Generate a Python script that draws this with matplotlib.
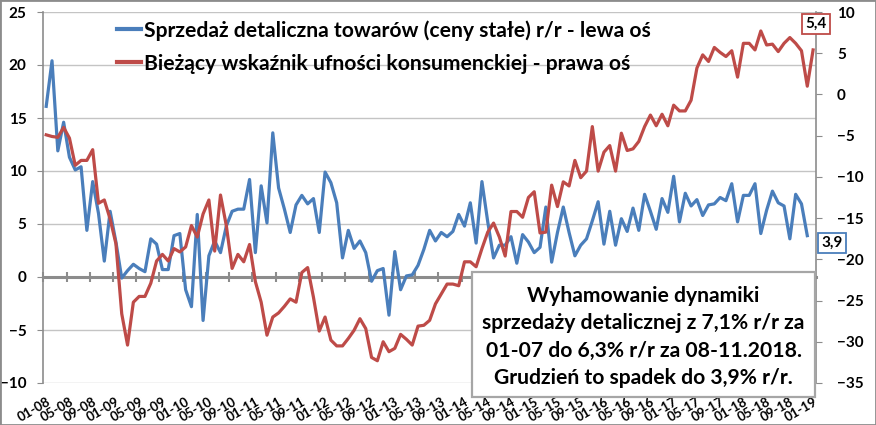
import numpy as np
import matplotlib
matplotlib.use("Agg")
import matplotlib.pyplot as plt
from matplotlib.patches import Rectangle

plt.rcParams['font.family'] = ['Lato', 'DejaVu Sans']

# ---------------- DATA ----------------
tick_labels = ["01-08", "05-08", "09-08", "01-09", "05-09", "09-09", "01-10", "05-10", "09-10",
               "01-11", "05-11", "09-11", "01-12", "05-12", "09-12", "01-13", "05-13", "09-13",
               "01-14", "05-14", "09-14", "01-15", "05-15", "09-15", "01-16", "05-16", "09-16",
               "01-17", "05-17", "09-17", "01-18", "05-18", "09-18", "01-19"]

# Retail sales of goods (constant prices) y/y, 01-2008 .. 12-2018 (left axis)
retail = [16.1, 20.4, 11.9, 14.6, 11.3, 10.1, 10.4, 4.4, 9.0, 6.0,
          1.5, 6.2, 3.3, -0.1, 0.6, 1.2, 0.8, 0.5, 3.6, 3.1,
          0.7, 0.7, 3.9, 4.1, -1.2, -2.8, 5.9, -4.1, 2.0, 3.4,
          2.3, 4.8, 6.2, 6.4, 6.4, 9.2, 2.3, 8.6, 5.1, 13.6,
          8.4, 6.4, 4.2, 6.8, 7.7, 6.9, 7.4, 4.2, 9.9, 8.9,
          7.0, 1.8, 4.4, 2.7, 3.4, 2.3, -0.4, 0.6, 0.8, -3.6,
          2.4, -1.2, 0.1, 0.2, 1.1, 2.6, 4.4, 3.4, 4.2, 3.8,
          4.3, 5.9, 4.8, 7.0, 3.2, 9.0, 5.2, 1.8, 3.0, 3.0,
          3.8, 1.3, 4.0, 3.3, 2.3, 2.8, 6.6, 1.4, 4.2, 6.6,
          4.2, 2.0, 3.0, 3.6, 5.3, 7.1, 3.1, 6.2, 3.0, 5.5,
          4.3, 6.5, 4.4, 7.8, 6.2, 4.5, 7.4, 6.1, 9.5, 5.2,
          7.9, 6.7, 7.3, 5.8, 6.8, 6.9, 7.5, 7.2, 8.8, 5.2,
          7.7, 7.7, 8.8, 4.1, 6.3, 8.1, 7.0, 6.7, 3.6, 7.8,
          6.9, 3.9]

# Current consumer confidence indicator, 01-2008 .. 01-2019 (right axis)
confidence = [-4.9, -5.1, -5.2, -4.0, -5.3, -8.6, -8.0, -8.0, -6.7, -13.2,
              -12.8, -15.1, -18.1, -26.6, -30.4, -25.2, -24.5, -24.5, -22.9, -20.2,
              -19.4, -20.2, -18.7, -19.1, -18.5, -15.9, -17.3, -14.5, -12.8, -19.0,
              -12.2, -15.9, -21.1, -19.4, -20.3, -18.2, -22.7, -25.2, -29.2, -27.0,
              -26.5, -25.7, -24.8, -25.2, -21.6, -21.0, -24.6, -28.7, -27.0, -29.8,
              -30.5, -30.5, -29.6, -28.6, -27.2, -28.4, -31.9, -32.3, -30.0, -31.2,
              -30.8, -29.1, -29.7, -30.4, -28.1, -28.0, -27.4, -25.4, -24.2, -23.0,
              -23.0, -23.2, -20.3, -20.3, -20.9, -18.7, -16.7, -15.6, -17.3, -19.6,
              -14.2, -14.2, -14.9, -12.5, -11.8, -16.8, -16.7, -11.0, -13.6, -10.6,
              -11.1, -8.0, -10.1, -9.3, -3.9, -9.3, -7.0, -6.2, -9.3, -4.7,
              -6.8, -6.6, -5.7, -3.9, -2.5, -3.8, -2.4, -3.8, -1.3, -2.0,
              -2.0, -0.7, 3.2, 4.8, 4.0, 5.7, 5.1, 4.6, 5.3, 2.1,
              6.2, 6.2, 5.4, 7.7, 6.0, 6.1, 5.2, 6.2, 6.9, 6.2,
              5.3, 1.0, 5.4]

label_retail = "Sprzedaż detaliczna towarów (ceny stałe) r/r - lewa oś"
label_conf = "Bieżący wskaźnik ufności konsumenckiej - prawa oś"
note = ("Wyhamowanie dynamiki\nsprzedaży detalicznej z 7,1% r/r za\n"
        "01-07 do 6,3% r/r za 08-11.2018.\nGrudzień to spadek do 3,9% r/r.")
last_retail_txt = "3,9"
last_conf_txt = "5,4"

# ---------------- STYLE ----------------
BLUE = "#4a7ebb"
RED = "#be4b48"
GRID = "#c4c4c4"
AXC = "#8c8c8c"
W, H = 876, 425

fig = plt.figure(figsize=(W / 100, H / 100), dpi=100)
L, R, T, B = 43.3, 816, 12, 383
ax = fig.add_axes([L / W, 1 - B / H, (R - L) / W, (B - T) / H])
ax2 = ax.twinx()
axl = ax.twiny()

n = len(confidence)
x_conf = np.arange(n)
x_ret = np.arange(len(retail))

l1, = ax.plot(x_ret, retail, color=BLUE, lw=2.3, solid_joinstyle='round', zorder=3)
l2, = ax2.plot(x_conf, confidence, color=RED, lw=2.3, solid_joinstyle='round', zorder=3)

ax.set_xlim(-0.5, n - 0.5)
ax2.set_xlim(-0.5, n - 0.5)
axl.set_xlim(-0.5, n - 0.5)
ax.set_ylim(-10, 25)
ax2.set_ylim(-35, 10)

# left axis
ax.set_yticks(np.arange(-10, 26, 5))
ax.yaxis.grid(True, color=GRID, lw=1)
ax.set_axisbelow(True)
ax.tick_params(axis='y', length=4, color=AXC, pad=8, labelsize=11)
for t in ax.get_yticklabels():
    t.set_fontweight('bold')
ax.spines['top'].set_visible(False)
ax.spines['right'].set_visible(False)
ax.spines['left'].set_color(AXC)
ax.spines['left'].set_linewidth(1.2)
# zero axis with tick marks between category groups
ax.spines['bottom'].set_position(('data', 0))
ax.spines['bottom'].set_color(AXC)
ax.spines['bottom'].set_linewidth(2.2)
ax.set_xticks([])
ax.set_xticks(np.arange(-0.5, n - 1, 4), minor=True)
ax.tick_params(axis='x', which='minor', direction='inout', length=7, width=1.5, color=AXC)
ax.tick_params(axis='x', which='major', length=0)

# right axis
ax2.set_yticks(np.arange(-35, 11, 5))
ax2.tick_params(axis='y', length=4, color=AXC, pad=11, labelsize=11)
for t in ax2.get_yticklabels():
    t.set_fontweight('bold')
for s in ['top', 'left', 'bottom']:
    ax2.spines[s].set_visible(False)
ax2.spines['right'].set_color(AXC)
ax2.spines['right'].set_linewidth(1.2)

# category labels at the bottom
axl.xaxis.set_ticks_position('bottom')
axl.xaxis.set_label_position('bottom')
axl.set_xticks(np.arange(0, n, 4))
axl.set_xticklabels(tick_labels, rotation=30, ha='right', va='top',
                    rotation_mode='anchor', fontweight='bold', fontsize=9.5)
axl.tick_params(axis='x', length=0, pad=9)
for s in axl.spines.values():
    s.set_visible(False)
axl.patch.set_visible(False)

ax.set_zorder(1)
ax2.set_zorder(2)
axl.set_zorder(3)
ax.patch.set_visible(True)
ax2.patch.set_visible(False)

leg = ax2.legend([l1, l2], [label_retail, label_conf], loc='upper left',
                 bbox_to_anchor=(117 / W, 1 - 20 / H), bbox_transform=fig.transFigure,
                 frameon=False, prop={'weight': 'bold', 'size': 15.2},
                 handlelength=1.15, handletextpad=0.12, labelspacing=0.62,
                 borderpad=0, borderaxespad=0)
for h in leg.get_lines():
    h.set_linewidth(3)

# note box
fig.patches.append(Rectangle((472 / W, 1 - 397 / H), 343 / W, 125 / H, transform=fig.transFigure,
                             facecolor='white', edgecolor='#a6a6a6', lw=1.6, zorder=10))
fig.text(643.5 / W, 1 - 337 / H, note, ha='center', va='center', fontsize=15.2,
         fontweight='bold', linespacing=1.44, zorder=11)

# last-value boxes
fig.text(816 / W, 1 - 24 / H, last_conf_txt, ha='center', va='center', fontsize=11,
         fontweight='bold', zorder=11,
         bbox=dict(boxstyle='square,pad=0.2', facecolor='white', edgecolor=RED, lw=1.3))
fig.text(832 / W, 1 - 243 / H, last_retail_txt, ha='center', va='center', fontsize=11,
         fontweight='bold', zorder=11,
         bbox=dict(boxstyle='square,pad=0.2', facecolor='white', edgecolor=BLUE, lw=1.3))

# outer frame
fig.patches.append(Rectangle((0, 0), 1, 1, transform=fig.transFigure, fill=False,
                             edgecolor='#8c8c8c', lw=2, zorder=20))

fig.savefig("out.png", dpi=100)
